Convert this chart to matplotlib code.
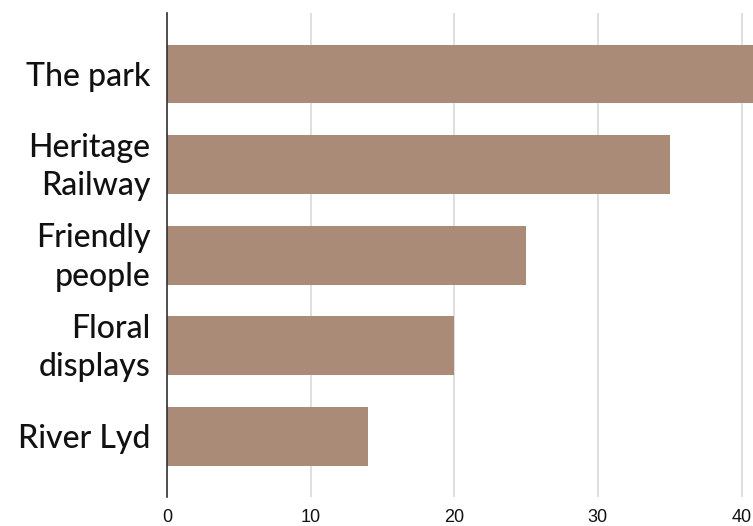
import matplotlib
matplotlib.use("Agg")
import matplotlib.pyplot as plt
from matplotlib.transforms import ScaledTranslation

categories = ["The park", "Heritage\nRailway", "Friendly\npeople", "Floral\ndisplays", "River Lyd"]
values = [42, 35, 25, 20, 14]
xticks = [0, 10, 20, 30, 40]

fig = plt.figure(figsize=(7.53, 5.26), dpi=100)
ax = fig.add_axes([167/753, 1-497/526, 1-167/753, (497-12.7)/526])

y = list(range(len(categories)))
ax.barh(y, values, height=0.648, color="#A98B77", zorder=3)
ax.set_ylim(len(categories)-1+0.67, -0.677)
ax.set_xlim(0, 40.8)
ax.set_xticks(xticks)
ax.set_xticklabels([str(t) for t in xticks], fontsize=13, family="Liberation Sans", color="#111111")
ax.set_yticks(y)
ax.set_yticklabels(categories, fontsize=23, family="Lato", fontweight="medium", color="#111111", linespacing=1.35)
ax.tick_params(axis="y", length=0, pad=12)
ax.tick_params(axis="x", length=0, pad=9)
shift = ScaledTranslation(0, 5/100, fig.dpi_scale_trans)
for lbl in ax.get_yticklabels():
    if "\n" in lbl.get_text():
        lbl.set_transform(lbl.get_transform() + shift)
ax.xaxis.grid(True, color="#d9d9d9", linewidth=1.2, zorder=0)
for s in ["top", "right", "bottom"]:
    ax.spines[s].set_visible(False)
ax.spines["left"].set_color("#333333")
ax.spines["left"].set_linewidth(1.2)
ax.spines["left"].set_zorder(4)
fig.savefig("out.png", dpi=100)
